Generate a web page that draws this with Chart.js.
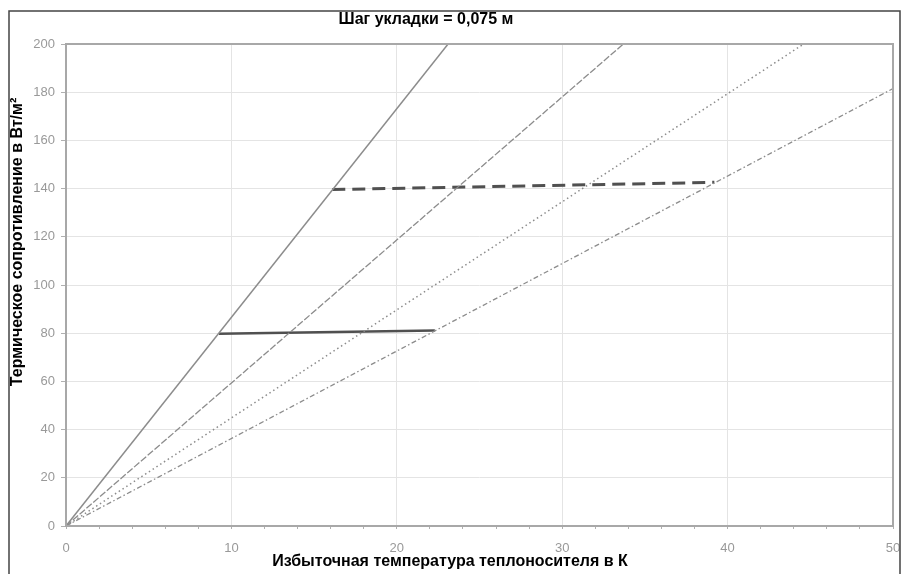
<!DOCTYPE html>
<html>
<head>
<meta charset="utf-8">
<title>Шаг укладки = 0,075 м</title>
<script src="https://cdn.jsdelivr.net/npm/chart.js@4/dist/chart.umd.min.js"></script>
<style>
  html, body { margin: 0; padding: 0; background: #fff; }
  #wrap { width: 905px; height: 574px; position: relative; }
</style>
</head>
<body>
<div id="wrap"><canvas id="chart" width="905" height="574"></canvas></div>
<script>
// ---------- data ----------
const chartTitle = "Шаг укладки = 0,075 м";
const xTitle = "Избыточная температура теплоносителя в К";
const yTitle = "Термическое сопротивление в Вт/м²";

const xTicksMajor = [0, 10, 20, 30, 40, 50];
const yTicks = [0, 20, 40, 60, 80, 100, 120, 140, 160, 180, 200];

// four gray characteristic lines from the origin
const solidX = [0, 23.1];
const solidY = [0, 200];
const dashedX = [0, 33.7];
const dashedY = [0, 200];
const dottedX = [0, 44.6];
const dottedY = [0, 200];
const dashDotX = [0, 50];
const dashDotY = [0, 181.5];

// dark connecting lines
const lowerX = [9.25, 22.3];
const lowerY = [79.8, 81.1];
const upperX = [16.1, 39.2];
const upperY = [139.6, 142.6];

// ---------- helpers ----------
function toPoints(xs, ys) {
  return xs.map((x, i) => ({ x: x, y: ys[i] }));
}

function lineSet(xs, ys, color, width, dash) {
  return {
    data: toPoints(xs, ys),
    showLine: true,
    borderColor: color,
    borderWidth: width,
    borderDash: dash,
    pointRadius: 0,
    fill: false,
    tension: 0
  };
}

const FONT = "'Liberation Sans', Arial, sans-serif";

// white page, frame round the plot, outer border, titles
const decorPlugin = {
  id: "decor",
  beforeDraw(chart) {
    const ctx = chart.ctx;
    ctx.save();
    ctx.fillStyle = "#fff";
    ctx.fillRect(0, 0, chart.width, chart.height);
    ctx.restore();
  },
  afterDraw(chart) {
    const { ctx, chartArea: a } = chart;
    ctx.save();
    // plot frame
    ctx.strokeStyle = "#a8a8a8";
    ctx.lineWidth = 2;
    ctx.strokeRect(a.left, a.top, a.right - a.left, a.bottom - a.top);

    // outer border (open at the bottom), clips the "50" label
    ctx.fillStyle = "#fff";
    ctx.fillRect(901, 0, 4, chart.height);
    ctx.strokeStyle = "#444";
    ctx.lineWidth = 1.5;
    ctx.beginPath();
    ctx.moveTo(9, chart.height);
    ctx.lineTo(9, 11);
    ctx.lineTo(900, 11);
    ctx.lineTo(900, chart.height);
    ctx.stroke();

    // chart title and axis titles
    ctx.fillStyle = "#000";
    ctx.font = "bold 16px " + FONT;
    ctx.textAlign = "center";
    ctx.textBaseline = "middle";
    ctx.fillText(chartTitle, 426, 20);
    ctx.fillText(xTitle, 450, 562);
    ctx.translate(18, 242);
    ctx.rotate(-Math.PI / 2);
    ctx.fillText(yTitle, 0, 0);
    ctx.restore();
  }
};

// ---------- chart ----------
const tickFont = { family: FONT, size: 13 };

new Chart(document.getElementById("chart"), {
  type: "scatter",
  data: {
    datasets: [
      lineSet(solidX, solidY, "#8c8c8c", 1.5, []),
      lineSet(dashedX, dashedY, "#8c8c8c", 1.3, [7, 2]),
      lineSet(dottedX, dottedY, "#8c8c8c", 1.5, [1.5, 3]),
      lineSet(dashDotX, dashDotY, "#8c8c8c", 1.3, [5, 2.5, 1.5, 2.5]),
      lineSet(lowerX, lowerY, "#505050", 2.5, []),
      lineSet(upperX, upperY, "#505050", 3, [13, 7])
    ]
  },
  options: {
    responsive: false,
    animation: false,
    layout: { padding: { left: 0, right: 12, top: 44, bottom: 0 } },
    plugins: {
      legend: { display: false },
      tooltip: { enabled: false },
      title: { display: false }
    },
    scales: {
      x: {
        type: "linear",
        min: 0,
        max: 50,
        afterFit(scale) {
          scale.height = 48;
          scale.paddingLeft = 0;
          scale.paddingRight = 0;
        },
        border: { display: false },
        grid: {
          color: (c) => (xTicksMajor.includes(c.tick.value) ? "#e4e4e4" : "rgba(0,0,0,0)"),
          tickColor: "#b0b0b0",
          tickLength: 3,
          lineWidth: 1
        },
        ticks: {
          stepSize: 2,
          autoSkip: false,
          maxRotation: 0,
          padding: 12,
          color: "#999",
          font: tickFont,
          callback: (v) => (xTicksMajor.includes(v) ? String(v) : "")
        }
      },
      y: {
        type: "linear",
        min: 0,
        max: 200,
        afterFit(scale) {
          scale.width = 66;
          scale.paddingTop = 0;
          scale.paddingBottom = 0;
        },
        afterBuildTicks(scale) { scale.ticks = yTicks.map((v) => ({ value: v })); },
        border: { display: false },
        grid: {
          color: "#e4e4e4",
          tickColor: "#b0b0b0",
          tickLength: 5,
          lineWidth: 1
        },
        ticks: {
          padding: 6,
          color: "#999",
          font: tickFont
        }
      }
    }
  },
  plugins: [decorPlugin]
});
</script>
</body>
</html>
